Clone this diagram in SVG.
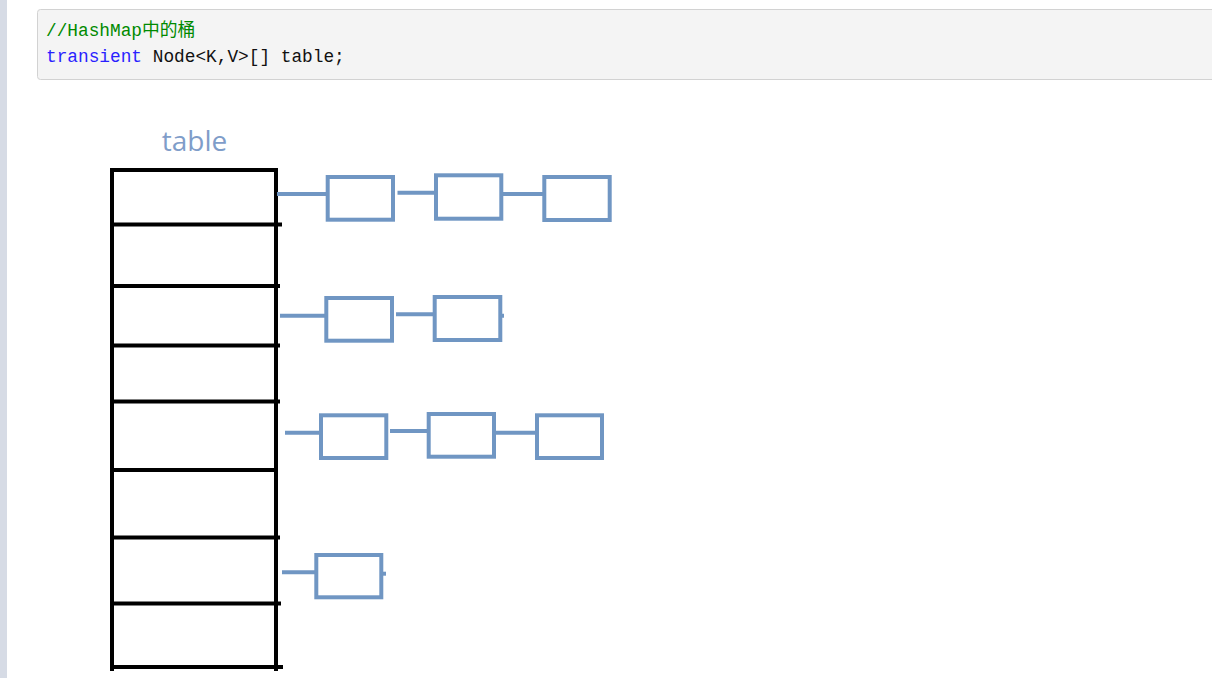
<svg xmlns="http://www.w3.org/2000/svg" width="1212" height="678" viewBox="0 0 1212 678">
  <style>
    .code { font-family: "Liberation Mono", "Noto Sans CJK SC", monospace; font-size: 17.8px; }
    .cm { fill: #008a00; }
    .kw { fill: #2a1fff; }
    .tx { fill: #111111; }
    .grid { stroke: #000000; stroke-width: 4; fill: none; }
    .node rect { fill: #ffffff; stroke: #7096c3; stroke-width: 4; }
    .link { stroke: #7096c3; stroke-width: 4; fill: none; }
    .lbl { font-family: "Open Sans", "Liberation Sans", sans-serif; font-size: 28px; fill: #7f9dc9; }
  </style>
  <rect x="0" y="0" width="1212" height="678" fill="#ffffff"/>
  <rect x="0" y="0" width="7" height="678" fill="#d6dbe5"/>

  <g id="code-block">
    <rect x="37.5" y="9.5" width="1190" height="70" rx="3" ry="3" fill="#f4f4f4" stroke="#d2d2d2" stroke-width="1"/>
    <text class="code cm" x="46" y="36">//HashMap中的桶</text>
    <text class="code" x="46" y="62"><tspan class="kw">transient</tspan><tspan class="tx"> Node&lt;K,V&gt;[] table;</tspan></text>
  </g>

  <g id="table">
    <text class="lbl" x="194.5" y="151" text-anchor="middle">table</text>
    <line class="grid" x1="112" y1="168" x2="112" y2="671"/>
    <line class="grid" x1="276" y1="168" x2="276" y2="671"/>
    <line class="grid" x1="110" y1="170" x2="278" y2="170"/>
    <line class="grid" x1="110" y1="224.5" x2="282" y2="224.5"/>
    <line class="grid" x1="110" y1="286" x2="280" y2="286"/>
    <line class="grid" x1="110" y1="345.5" x2="280" y2="345.5"/>
    <line class="grid" x1="110" y1="401.5" x2="280" y2="401.5"/>
    <line class="grid" x1="110" y1="470" x2="277" y2="470"/>
    <line class="grid" x1="110" y1="537.5" x2="280" y2="537.5"/>
    <line class="grid" x1="110" y1="603.5" x2="281" y2="603.5"/>
    <line class="grid" x1="110" y1="667" x2="283" y2="667"/>
  </g>

  <g id="connectors">
    <line class="link" x1="277" y1="194" x2="328" y2="194"/>
    <line class="link" x1="397.5" y1="192.7" x2="436" y2="192.7"/>
    <line class="link" x1="503" y1="194" x2="544" y2="194"/>

    <line class="link" x1="280" y1="315.7" x2="326" y2="315.7"/>
    <line class="link" x1="396" y1="314.3" x2="434.7" y2="314.3"/>
    <line class="link" x1="502" y1="315.7" x2="504" y2="315.7"/>

    <line class="link" x1="285" y1="432.7" x2="321" y2="432.7"/>
    <line class="link" x1="390" y1="431" x2="428.7" y2="431"/>
    <line class="link" x1="496" y1="432.7" x2="537" y2="432.7"/>

    <line class="link" x1="282" y1="572.3" x2="316.3" y2="572.3"/>
    <line class="link" x1="382" y1="573.7" x2="386" y2="573.7"/>
  </g>

  <g id="node-1-1" class="node"><rect x="327.7" y="177" width="65.3" height="42.7"/></g>
  <g id="node-1-2" class="node"><rect x="436" y="175.3" width="65.3" height="43.4"/></g>
  <g id="node-1-3" class="node"><rect x="544.3" y="177" width="65.4" height="43"/></g>

  <g id="node-2-1" class="node"><rect x="326.3" y="298" width="65.7" height="42.7"/></g>
  <g id="node-2-2" class="node"><rect x="434.7" y="297" width="65.6" height="43"/></g>

  <g id="node-3-1" class="node"><rect x="321" y="415.3" width="65.3" height="42.7"/></g>
  <g id="node-3-2" class="node"><rect x="428.7" y="414" width="65.3" height="42.7"/></g>
  <g id="node-3-3" class="node"><rect x="537" y="415.3" width="65" height="42.7"/></g>

  <g id="node-4-1" class="node"><rect x="316.3" y="555" width="65" height="42.3"/></g>
</svg>
